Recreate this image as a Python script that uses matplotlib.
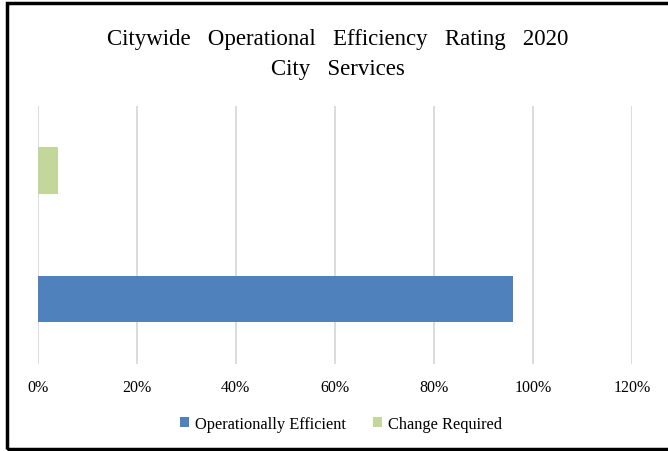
import matplotlib.pyplot as plt
from matplotlib.patches import Rectangle
from matplotlib.ticker import PercentFormatter

plt.rcParams['font.family'] = ['Liberation Serif', 'DejaVu Serif']

series = ['Operationally Efficient', 'Change Required']
values = [0.96, 0.04]
colours = ['#4f81bd', '#c3d69b']
xticks = [0, 0.2, 0.4, 0.6, 0.8, 1.0, 1.2]
title_lines = ['Citywide Operational Efficiency Rating 2020', 'City Services']

W, H = 668, 452
fig = plt.figure(figsize=(W / 100, H / 100), dpi=100)
ax = fig.add_axes([37.7 / W, 1 - 365 / H, (632 - 37.7) / W, 258 / H])

for i, (name, v, c) in enumerate(zip(series, values, colours)):
    ax.barh(i, v, height=0.36, color=c, label=name, zorder=3)

ax.set_xlim(0, 1.2)
ax.set_ylim(-0.506, 1.502)
ax.set_xticks(xticks)
ax.xaxis.set_major_formatter(PercentFormatter(1.0, decimals=0))
ax.set_yticks([])
ax.grid(axis='x', color='#d9d9d9', linewidth=1.3, zorder=0)
for s in ax.spines.values():
    s.set_visible(False)
ax.tick_params(axis='x', length=0, pad=11, labelsize=11.5, colors='#000000')

# wide word gaps as in the original
fig.text(338 / W, 1 - 45 / H, title_lines[0].replace(' ', '   '),
         ha='center', va='baseline', fontsize=16.5)
fig.text(338 / W, 1 - 75 / H, title_lines[1].replace(' ', '   '),
         ha='center', va='baseline', fontsize=16.5)

ax.legend(loc='center', bbox_to_anchor=(341 / W, 1 - 425 / H), bbox_transform=fig.transFigure,
          ncol=2, frameon=False, fontsize=11.8, handlelength=0.55, handleheight=0.55,
          handletextpad=0.4, columnspacing=1.6)

fig.patches.append(Rectangle((6.5 / W, 2.5 / H), 1.0, 1 - 6.5 / H, transform=fig.transFigure,
                             fill=False, edgecolor='black', linewidth=2.5))

fig.savefig('out.png', dpi=100)
